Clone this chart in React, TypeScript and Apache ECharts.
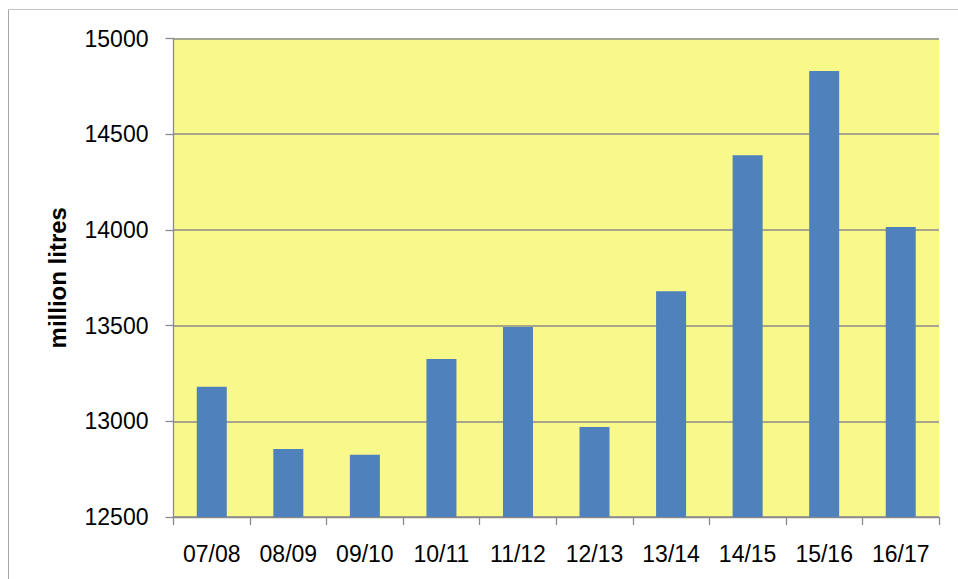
import React, { useEffect, useRef } from "react";
import * as echarts from "echarts";

const categories = ["07/08", "08/09", "09/10", "10/11", "11/12", "12/13", "13/14", "14/15", "15/16", "16/17"];
const values = [13180, 12855, 12825, 13325, 13493, 12970, 13680, 14390, 14830, 14015];
const yTicks = { min: 12500, max: 15000, interval: 500 };
const yName = "million litres";

export default function App() {
  const ref = useRef<HTMLDivElement>(null);
  useEffect(() => {
    if (!ref.current) return;
    const chart = echarts.init(ref.current, undefined, { renderer: "svg" });
    const font = "'Liberation Sans', Arial, sans-serif";
    chart.setOption({
      animation: false,
      backgroundColor: "#ffffff",
      grid: {
        left: 173.5,
        right: 19,
        top: 38.5,
        bottom: 62,
        show: true,
        backgroundColor: "#f8f98a",
        borderWidth: 0,
      },
      graphic: [
        { type: "line", shape: { x1: 8.5, y1: 9.5, x2: 8.5, y2: 579 }, style: { stroke: "#a6a6a6", lineWidth: 1 } },
        { type: "line", shape: { x1: 8.5, y1: 9.5, x2: 958, y2: 9.5 }, style: { stroke: "#c4c4c4", lineWidth: 1 } },
      ],
      xAxis: {
        type: "category",
        data: categories,
        boundaryGap: true,
        axisLine: { show: true, lineStyle: { color: "#8a8a8a", width: 1.3 } },
        axisTick: { show: true, length: 8, alignWithLabel: false, lineStyle: { color: "#8a8a8a", width: 1.3 } },
        axisLabel: { color: "#000", fontSize: 23, fontFamily: font, margin: 25, interval: 0 },
        splitLine: { show: false },
      },
      yAxis: {
        type: "value",
        min: yTicks.min,
        max: yTicks.max,
        interval: yTicks.interval,
        name: yName,
        nameLocation: "middle",
        nameGap: 104,
        nameTextStyle: { color: "#000", fontSize: 24, fontWeight: "bold", fontFamily: font },
        axisLine: { show: true, lineStyle: { color: "#8a8a8a", width: 1.3 } },
        axisTick: { show: true, length: 8, lineStyle: { color: "#8a8a8a", width: 1.3 } },
        axisLabel: { color: "#000", fontSize: 23, fontFamily: font, margin: 25, formatter: (v: number) => String(v) },
        splitLine: { show: true, lineStyle: { color: "#8a8a8a", width: 1.5 } },
      },
      series: [
        {
          type: "bar",
          data: values,
          barWidth: 30,
          itemStyle: { color: "#4f81bd" },
        },
      ],
    });
    return () => chart.dispose();
  }, []);
  return <div ref={ref} style={{ position: "fixed", left: 0, top: 0, width: 958, height: 579 }} />;
}
